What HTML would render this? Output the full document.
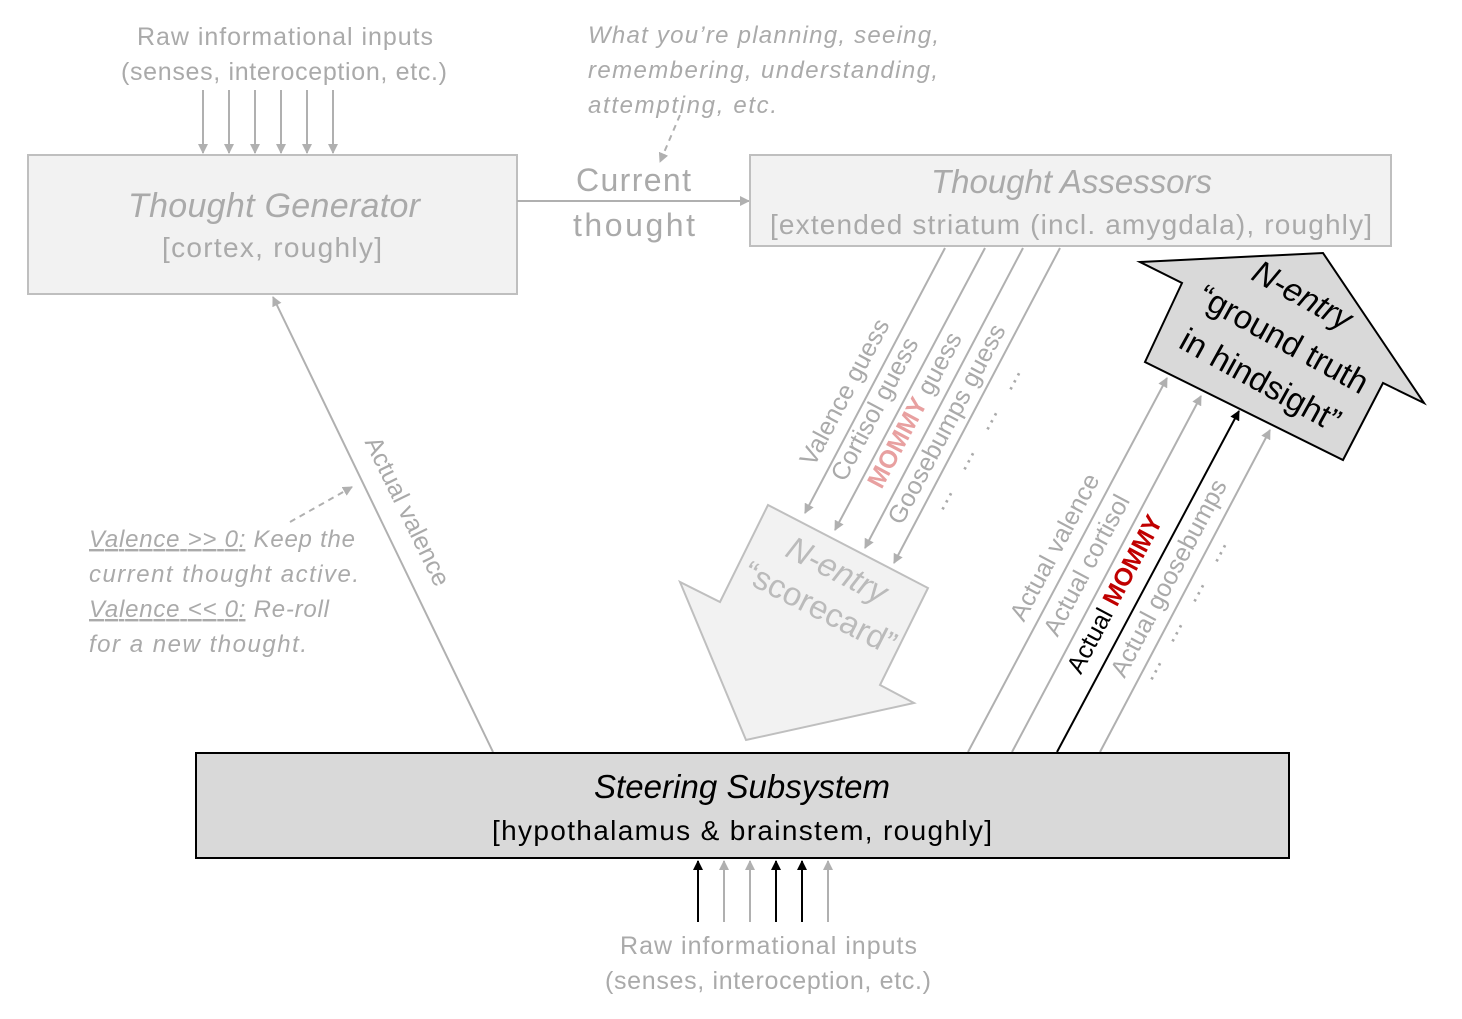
<!DOCTYPE html>
<html><head><meta charset="utf-8"><style>
html,body{margin:0;padding:0;background:#fff;}
svg{display:block;font-family:"Liberation Sans",sans-serif;}
</style></head><body>
<svg width="1462" height="1019" viewBox="0 0 1462 1019" xmlns="http://www.w3.org/2000/svg">
<defs>
<marker id="ag" viewBox="0 0 10 10" refX="9" refY="5" markerWidth="5" markerHeight="5" orient="auto"><path d="M0,0L10,5L0,10z" fill="#b0b0b0"/></marker>
<marker id="ab" viewBox="0 0 10 10" refX="9" refY="5" markerWidth="5" markerHeight="5" orient="auto"><path d="M0,0L10,5L0,10z" fill="#000"/></marker>
</defs>

<text x="137" y="45" font-size="25" fill="#aaa" textLength="296">Raw informational inputs</text>
<text x="121" y="80" font-size="25" fill="#aaa" textLength="326">(senses, interoception, etc.)</text>
<g stroke="#b0b0b0" stroke-width="2" marker-end="url(#ag)">
<line x1="203" y1="90" x2="203" y2="153"/><line x1="229" y1="90" x2="229" y2="153"/><line x1="255" y1="90" x2="255" y2="153"/>
<line x1="281" y1="90" x2="281" y2="153"/><line x1="307" y1="90" x2="307" y2="153"/><line x1="333" y1="90" x2="333" y2="153"/>
</g>

<g font-size="24" fill="#aaa" font-style="italic">
<text x="588" y="43" textLength="351">What you’re planning, seeing,</text>
<text x="588" y="78" textLength="350">remembering, understanding,</text>
<text x="588" y="113" textLength="189">attempting, etc.</text>
</g>
<line x1="680" y1="115" x2="660" y2="162" stroke="#b0b0b0" stroke-width="2" stroke-dasharray="6,5" marker-end="url(#ag)"/>

<rect x="28" y="155" width="489" height="139" fill="#f2f2f2" stroke="#bfbfbf" stroke-width="2"/>
<text x="128" y="217" font-size="34" fill="#aaa" font-style="italic" textLength="292">Thought Generator</text>
<text x="162" y="257" font-size="28" fill="#aaa" textLength="220">[cortex, roughly]</text>

<line x1="517" y1="201" x2="749" y2="201" stroke="#b0b0b0" stroke-width="2" marker-end="url(#ag)"/>
<text x="576" y="191" font-size="32" fill="#aaa" textLength="115">Current</text>
<text x="573" y="236" font-size="32" fill="#aaa" textLength="122">thought</text>

<rect x="750" y="155" width="641" height="91" fill="#f2f2f2" stroke="#bfbfbf" stroke-width="2"/>
<text x="931" y="193" font-size="33" fill="#aaa" font-style="italic" textLength="281">Thought Assessors</text>
<text x="770" y="234" font-size="28" fill="#aaa" textLength="602">[extended striatum (incl. amygdala), roughly]</text>

<line x1="493" y1="752" x2="273" y2="297" stroke="#b0b0b0" stroke-width="2" marker-end="url(#ag)"/>
<text transform="translate(400,515) rotate(64)" font-size="25" fill="#aaa" text-anchor="middle">Actual valence</text>

<g font-size="24" fill="#aaa" font-style="italic">
<text x="89" y="547" textLength="266"><tspan text-decoration="underline">Valence &gt;&gt; 0:</tspan> Keep the</text>
<text x="89" y="582" textLength="270">current thought active.</text>
<text x="89" y="617" textLength="240"><tspan text-decoration="underline">Valence &lt;&lt; 0:</tspan> Re-roll</text>
<text x="89" y="652" textLength="218">for a new thought.</text>
</g>
<line x1="290" y1="522" x2="352" y2="487" stroke="#b0b0b0" stroke-width="2" stroke-dasharray="6,5" marker-end="url(#ag)"/>

<polygon points="768,505 928,588 880,685 914,703 746,740 680,582 720,602" fill="#f2f2f2" stroke="#bfbfbf" stroke-width="2"/>
<text transform="translate(832,580) rotate(27)" font-size="33" fill="#bbb" font-style="italic" text-anchor="middle">N-entry</text>
<text transform="translate(815,618) rotate(27)" font-size="33" fill="#bbb" text-anchor="middle">“scorecard”</text>

<g stroke="#b0b0b0" stroke-width="2" marker-end="url(#ag)">
<line x1="945" y1="248" x2="805" y2="513"/>
<line x1="985" y1="248" x2="835" y2="530"/>
<line x1="1023" y1="248" x2="865" y2="548"/>
<line x1="1060" y1="248" x2="894" y2="563"/>
</g>
<g font-size="25" fill="#aaa">
<text transform="translate(852,396) rotate(-62)" text-anchor="middle">Valence guess</text>
<text transform="translate(882,413) rotate(-62)" text-anchor="middle">Cortisol guess</text>
<text transform="translate(922,414) rotate(-62)" text-anchor="middle"><tspan fill="#e8a0a0" font-weight="bold">MOMMY</tspan> guess</text>
<text transform="translate(954,428) rotate(-62)" text-anchor="middle">Goosebumps guess</text>
<text transform="translate(1016,382) rotate(-62)" text-anchor="middle">…</text>
<text transform="translate(993,422) rotate(-62)" text-anchor="middle">…</text>
<text transform="translate(970,462) rotate(-62)" text-anchor="middle">…</text>
<text transform="translate(948,502) rotate(-62)" text-anchor="middle">…</text>
</g>

<polygon points="1140,262 1323,253 1424,403 1383,383 1343,460 1145,362 1182,283" fill="#d9d9d9" stroke="#000" stroke-width="2"/>
<g font-size="33" fill="#000" text-anchor="middle">
<text transform="translate(1297,305) rotate(29)" font-style="italic">N-entry</text>
<text transform="translate(1278,349) rotate(29)">“ground truth</text>
<text transform="translate(1255,390) rotate(29)">in hindsight”</text>
</g>

<g stroke-width="2">
<line x1="968" y1="752" x2="1167" y2="378" stroke="#b0b0b0" marker-end="url(#ag)"/>
<line x1="1012" y1="752" x2="1201" y2="396" stroke="#b0b0b0" marker-end="url(#ag)"/>
<line x1="1057" y1="752" x2="1239" y2="411" stroke="#000" marker-end="url(#ab)"/>
<line x1="1100" y1="752" x2="1270" y2="430" stroke="#b0b0b0" marker-end="url(#ag)"/>
</g>
<g font-size="25" fill="#aaa">
<text transform="translate(1062,551) rotate(-62)" text-anchor="middle">Actual valence</text>
<text transform="translate(1094,569) rotate(-62)" text-anchor="middle">Actual cortisol</text>
<text transform="translate(1122,598) rotate(-62)" text-anchor="middle" fill="#000">Actual <tspan fill="#c00000" font-weight="bold">MOMMY</tspan></text>
<text transform="translate(1176,582) rotate(-62)" text-anchor="middle">Actual goosebumps</text>
<text transform="translate(1222,554) rotate(-62)" text-anchor="middle">…</text>
<text transform="translate(1200,594) rotate(-62)" text-anchor="middle">…</text>
<text transform="translate(1178,634) rotate(-62)" text-anchor="middle">…</text>
<text transform="translate(1157,672) rotate(-62)" text-anchor="middle">…</text>
</g>

<rect x="196" y="753" width="1093" height="105" fill="#d9d9d9" stroke="#000" stroke-width="2"/>
<text x="594" y="798" font-size="33" fill="#000" font-style="italic" textLength="296">Steering Subsystem</text>
<text x="492" y="840" font-size="28" fill="#000" textLength="500">[hypothalamus &amp; brainstem, roughly]</text>

<g stroke-width="2">
<line x1="698" y1="922" x2="698" y2="861" stroke="#000" marker-end="url(#ab)"/>
<line x1="724" y1="922" x2="724" y2="861" stroke="#b0b0b0" marker-end="url(#ag)"/>
<line x1="750" y1="922" x2="750" y2="861" stroke="#b0b0b0" marker-end="url(#ag)"/>
<line x1="776" y1="922" x2="776" y2="861" stroke="#000" marker-end="url(#ab)"/>
<line x1="802" y1="922" x2="802" y2="861" stroke="#000" marker-end="url(#ab)"/>
<line x1="828" y1="922" x2="828" y2="861" stroke="#b0b0b0" marker-end="url(#ag)"/>
</g>
<text x="620" y="954" font-size="25" fill="#aaa" textLength="297">Raw informational inputs</text>
<text x="605" y="989" font-size="25" fill="#aaa" textLength="326">(senses, interoception, etc.)</text>
</svg>
</body></html>
